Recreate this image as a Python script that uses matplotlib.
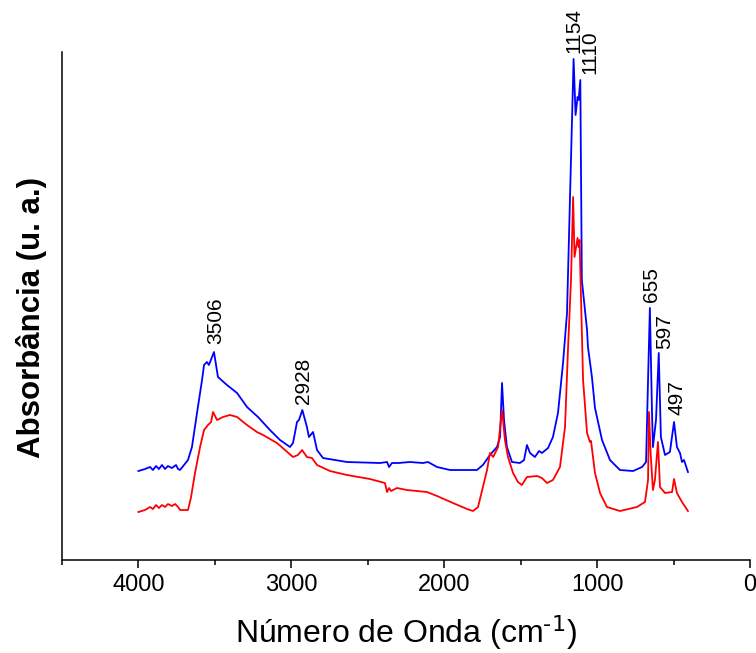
import matplotlib
matplotlib.use("Agg")
import matplotlib.pyplot as plt
from matplotlib.ticker import MultipleLocator

plt.rcParams['font.family'] = ['Liberation Sans', 'DejaVu Sans']
plt.rcParams['mathtext.default'] = 'regular'

# wavenumber (cm-1) / absorbance (u. a.)
wn_blue = [4000, 3957, 3924, 3905, 3885, 3866, 3846, 3826, 3807, 3781, 3754, 3741, 3728,
           3676, 3650, 3617, 3584, 3571, 3552, 3539, 3506, 3480, 3421, 3355, 3290, 3218,
           3140, 3074, 3009, 2989, 2963, 2950, 2928, 2898, 2885, 2858, 2832, 2793, 2636,
           2420, 2374, 2361, 2342, 2300, 2224, 2139, 2106, 2047, 1962, 1832, 1786, 1747,
           1701, 1655, 1635, 1622, 1609, 1590, 1557, 1505, 1478, 1459, 1439, 1407, 1380,
           1361, 1321, 1289, 1256, 1223, 1197, 1154, 1141, 1128, 1121, 1110, 1100, 1066,
           1060, 1034, 1014, 968, 916, 851, 765, 706, 680, 667, 655, 641, 635, 615, 597,
           583, 556, 524, 497, 478, 458, 445, 432, 406]
abs_blue = [89, 91, 93, 90, 94, 91, 95, 91, 94, 92, 95, 91, 90,
            100, 113, 147, 180, 195, 198, 195, 208, 183, 175, 167, 153, 143,
            130, 120, 113, 117, 138, 140, 150, 133, 123, 128, 110, 102, 98,
            97, 98, 93, 97, 97, 98, 97, 98, 93, 90, 90, 90, 95,
            105, 113, 123, 177, 140, 113, 98, 97, 100, 115, 107, 103, 109,
            107, 112, 123, 147, 197, 247, 501, 445, 463, 460, 480, 280, 230,
            213, 183, 152, 120, 100, 90, 89, 93, 98, 180, 252, 147, 113, 140, 207,
            123, 105, 108, 138, 113, 107, 98, 100, 88]

wn_red = [4000, 3957, 3924, 3905, 3885, 3866, 3846, 3826, 3807, 3781, 3760, 3741, 3728,
          3676, 3657, 3630, 3597, 3571, 3545, 3525, 3512, 3486, 3447, 3401, 3355, 3290,
          3225, 3185, 3094, 2989, 2957, 2930, 2898, 2865, 2832, 2747, 2636, 2486, 2388,
          2374, 2361, 2348, 2309, 2244, 2113, 2047, 1943, 1851, 1812, 1779, 1747, 1720,
          1701, 1680, 1648, 1622, 1603, 1583, 1550, 1518, 1492, 1459, 1393, 1361, 1328,
          1289, 1243, 1210, 1190, 1171, 1157, 1148, 1128, 1121, 1115, 1092, 1066, 1047,
          1040, 1014, 981, 936, 851, 740, 687, 667, 661, 650, 635, 622, 602, 589, 556,
          510, 497, 478, 445, 406]
abs_red = [48, 50, 53, 51, 55, 52, 55, 53, 56, 54, 56, 53, 50,
           50, 62, 87, 113, 130, 135, 138, 148, 140, 143, 145, 143, 135,
           128, 125, 117, 103, 105, 110, 103, 102, 95, 89, 85, 81, 77,
           68, 72, 69, 72, 70, 68, 64, 57, 51, 49, 53, 73, 90,
           107, 103, 113, 150, 120, 103, 87, 78, 75, 83, 84, 82, 77,
           80, 93, 133, 213, 280, 363, 303, 322, 313, 320, 180, 127, 118,
           119, 87, 67, 53, 49, 53, 58, 80, 148, 107, 70, 80, 118, 73, 67,
           68, 81, 67, 58, 49]

# labelled bands on the blue trace, with label offsets (points)
peak_wn = [3506, 2928, 1154, 1110, 655, 597, 497]
peak_dx = [1, 1, 0, 7, 1, 4, 2]
peak_dy = [6, 4, 4, 4, 4, 3, 5]

fig = plt.figure(figsize=(7.56, 6.53), dpi=100)
ax = fig.add_axes([0.082, 0.1424, 0.9101, 0.778])

ax.plot(wn_blue, abs_blue, color='#0000ff', lw=1.3)
ax.plot(wn_red, abs_red, color='#ff0000', lw=1.3)

for w, dx, dy in zip(peak_wn, peak_dx, peak_dy):
    y = abs_blue[wn_blue.index(w)]
    ax.annotate(str(w), xy=(w, y), xytext=(dx, dy), textcoords='offset points',
                rotation=90, ha='center', va='bottom', fontsize=15)

ax.set_xlim(4500, 0)
ax.set_ylim(0, 508)
ax.xaxis.set_major_locator(MultipleLocator(1000))
ax.xaxis.set_minor_locator(MultipleLocator(500))
ax.tick_params(axis='x', which='major', direction='out', length=6, width=1.1,
               labelsize=17, pad=4)
ax.tick_params(axis='x', which='minor', direction='out', length=3.5, width=1.1)
ax.set_yticks([])
ax.spines['top'].set_visible(False)
ax.spines['right'].set_visible(False)
ax.spines['left'].set_linewidth(1.1)
ax.spines['bottom'].set_linewidth(1.1)

fig.text(406 / 756, 1 - 633 / 653, r'Número de Onda (cm$^{\text{-1}}$)', ha='center',
         va='center', fontsize=23)
fig.text(32 / 756, 1 - 317 / 653, 'Absorbância (u. a.)', ha='center', va='center',
         rotation=90, fontsize=22.5, fontweight='bold')

fig.savefig('out.png', dpi=100)
